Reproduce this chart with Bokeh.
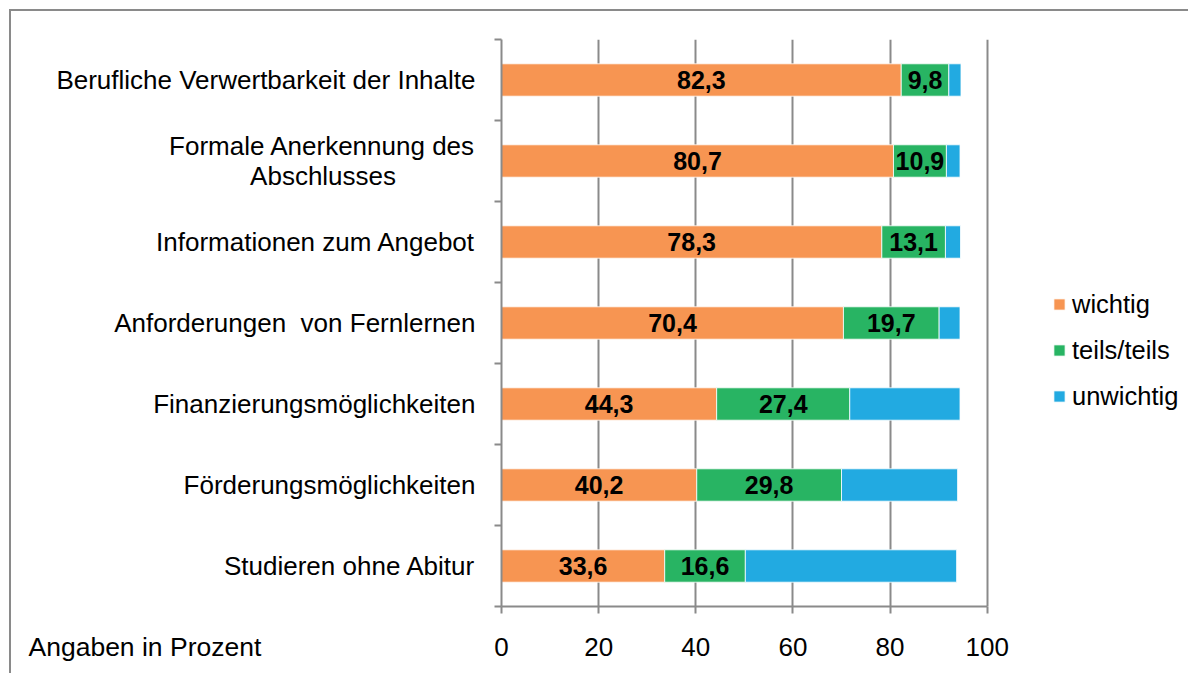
from bokeh.plotting import figure
from bokeh.models import (ColumnDataSource, Range1d, FixedTicker, Legend, LegendItem,
                          Label)
from bokeh.core.properties import value
from bokeh.embed import file_html
from bokeh.resources import INLINE

categories = [
    "Berufliche Verwertbarkeit der Inhalte",
    "Formale Anerkennung des\nAbschlusses" + "\u00a0" * 11,
    "Informationen zum Angebot",
    "Anforderungen\u00a0 von Fernlernen",
    "Finanzierungsmöglichkeiten",
    "Förderungsmöglichkeiten",
    "Studieren ohne Abitur",
]
wichtig = [82.3, 80.7, 78.3, 70.4, 44.3, 40.2, 33.6]
teils = [9.8, 10.9, 13.1, 19.7, 27.4, 29.8, 16.6]
unwichtig = [2.5, 2.8, 3.1, 4.3, 22.7, 23.9, 43.5]
series_names = ["wichtig", "teils/teils", "unwichtig"]
x_ticks = [0, 20, 40, 60, 80, 100]
axis_note = "Angaben in Prozent"

colors = ["#F79552", "#28B463", "#22AAE1"]
GRAY = "#8a8a8a"
FONT = "Liberation Sans"

n = len(categories)
ypos = [n - i - 0.5 for i in range(n)]

src = ColumnDataSource(dict(y=ypos, wichtig=wichtig, teils=teils, unwichtig=unwichtig))

# the frame extends to the right of 100 to host the legend; axis and grid stop at 100
p = figure(width=1188, height=673, output_backend="svg", toolbar_location=None,
           x_range=Range1d(0, 140), y_range=Range1d(0, n),
           min_border_left=501, min_border_top=39, min_border_bottom=67,
           min_border_right=7)
# chart frame line (top and left) drawn as inset shadows behind a transparent border area
p.styles = {"background-color": "white",
            "box-shadow": f"inset 9px 9px 0 0 #ffffff, inset 11px 11px 0 0 {GRAY}"}
p.outline_line_color = None
p.background_fill_color = "white"
p.border_fill_alpha = 0

renderers = p.hbar_stack(["wichtig", "teils", "unwichtig"], y="y", height=0.4,
                         color=colors, line_color="white", line_width=0.8, source=src)

# value labels
def fmt(v):
    return f"{v:.1f}".replace(".", ",")

lab_x, lab_y, lab_t = [], [], []
for i in range(n):
    lab_x.append(wichtig[i] / 2)
    lab_y.append(ypos[i])
    lab_t.append(fmt(wichtig[i]))
    lab_x.append(wichtig[i] + teils[i] / 2)
    lab_y.append(ypos[i])
    lab_t.append(fmt(teils[i]))
p.text(x=lab_x, y=lab_y, text=lab_t, text_align="center", text_baseline="middle",
       text_font=value(FONT), text_font_size="25px", text_font_style="bold",
       text_color="black")

# x axis
xa = p.xaxis[0]
xa.ticker = FixedTicker(ticks=x_ticks)
xa.bounds = (0, 100)
xa.axis_line_color = GRAY
xa.axis_line_width = 2
xa.major_tick_line_color = GRAY
xa.major_tick_line_width = 2
xa.major_tick_out = 7
xa.major_tick_in = 0
xa.minor_tick_line_color = None
xa.major_label_text_font = FONT
xa.major_label_text_font_size = "26px"
xa.major_label_text_color = "black"
xa.major_label_standoff = 24

# y axis
ya = p.yaxis[0]
ya.ticker = FixedTicker(ticks=ypos, minor_ticks=list(range(n + 1)))
ya.major_label_overrides = {y: c for y, c in zip(ypos, categories)}
ya.axis_line_color = GRAY
ya.axis_line_width = 2
ya.major_tick_line_color = None
ya.major_tick_out = 0
ya.major_tick_in = 0
ya.minor_tick_line_color = GRAY
ya.minor_tick_line_width = 2
ya.minor_tick_out = 7
ya.minor_tick_in = 0
ya.major_label_text_font = FONT
ya.major_label_text_font_size = "26px"
ya.major_label_text_line_height = 1.0
ya.major_label_text_color = "black"
ya.major_label_standoff = 19

p.xgrid.ticker = FixedTicker(ticks=x_ticks)
p.xgrid.grid_line_color = GRAY
p.xgrid.grid_line_width = 2
p.ygrid.grid_line_color = None

# note at the left, level with the x tick labels (side panel so it is not clipped)
p.add_layout(Label(x=-473, x_units="screen", y=-0.506, y_units="data", text=axis_note,
                   text_font=FONT, text_font_size="26.5px", text_color="black",
                   text_baseline="middle", text_align="left"), "above")

legend = Legend(items=[LegendItem(label=s, renderers=[r]) for s, r in zip(series_names, renderers)],
                location=(551, 195), orientation="vertical",
                border_line_color=None, background_fill_alpha=0,
                padding=0, margin=0, spacing=16,
                glyph_width=14, glyph_height=14, label_height=30,
                label_standoff=6, label_text_font=FONT, label_text_font_size="25.5px",
                label_text_color="black")
p.add_layout(legend, "center")

open("out.html", "w").write(file_html(p, INLINE))
